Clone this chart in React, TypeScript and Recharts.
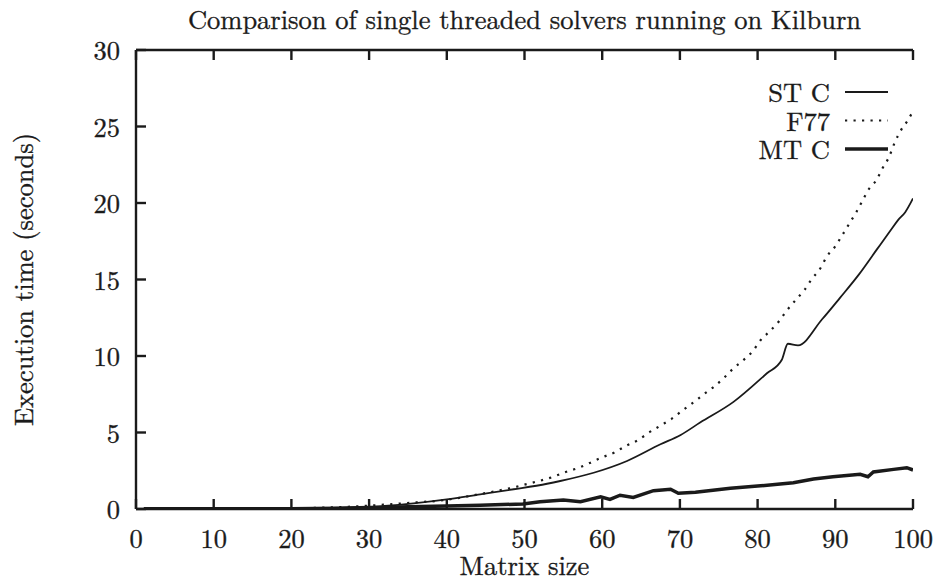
import React from 'react';
import { LineChart, Line, XAxis, YAxis, Legend } from 'recharts';

// ---- data ----
const stcX = [1, 5, 10, 15, 20, 25, 28, 30, 32, 35.7, 40, 44.3, 48.6, 52.9, 54.6, 58.9, 63.2, 67.5, 70.1, 72.6, 76.9, 81.2, 83.1, 83.9, 85.2, 88.3, 90.6, 93, 95.4, 97.1, 98.1, 99, 100];
const stcY = [0.0, 0.0, 0.01, 0.02, 0.04, 0.07, 0.1, 0.13, 0.2, 0.37, 0.63, 0.96, 1.29, 1.65, 1.83, 2.37, 3.14, 4.23, 4.84, 5.65, 7.0, 8.87, 9.74, 10.8, 10.7, 12.4, 13.8, 15.3, 17.0, 18.2, 18.9, 19.4, 20.3];

const f77X = [1, 10, 20, 25, 30, 33, 36.8, 38.6, 40.3, 42, 43.7, 45.3, 47, 48.7, 50.3, 52, 53.6, 55.3, 56.9, 58.5, 60, 61.6, 63.1, 64.6, 66, 67.5, 68.9, 70.3, 71.7, 73, 74.4, 75.7, 76.8, 78.1, 79.4, 80.4, 81.6, 82.8, 83.8, 84.9, 86, 87, 88.1, 88.9, 89.9, 90.9, 91.8, 92.7, 93.5, 94.3, 95.3, 96, 97, 97.6, 98.5, 99.2, 100];
const f77Y = [0.0, 0.01, 0.05, 0.1, 0.22, 0.32, 0.46, 0.52, 0.63, 0.76, 0.92, 1.07, 1.24, 1.42, 1.63, 1.85, 2.09, 2.42, 2.68, 3.03, 3.38, 3.7, 4.14, 4.5, 4.99, 5.45, 5.88, 6.43, 6.95, 7.47, 8.0, 8.58, 9.15, 9.7, 10.33, 11.05, 11.63, 12.3, 13.0, 13.66, 14.3, 15.05, 15.75, 16.5, 17.1, 17.9, 18.65, 19.4, 20.15, 20.9, 21.5, 22.2, 23.1, 23.9, 24.8, 25.3, 26.0];

const mtcX = [1, 10, 20, 26, 30, 31.4, 35, 40, 44.3, 49.8, 52, 55, 57.2, 59.8, 61, 62.3, 64, 66.6, 68.8, 69.8, 72, 76.5, 80, 82.9, 84.6, 87.2, 89.7, 93.2, 94.2, 94.9, 97.5, 99.2, 100];
const mtcY = [0.02, 0.02, 0.02, 0.05, 0.1, 0.1, 0.15, 0.2, 0.24, 0.33, 0.48, 0.59, 0.48, 0.8, 0.63, 0.9, 0.76, 1.2, 1.29, 1.03, 1.1, 1.35, 1.5, 1.63, 1.72, 1.96, 2.11, 2.27, 2.11, 2.42, 2.59, 2.7, 2.55];

const seriesNames = ['ST C', 'F77', 'MT C'];
const xTicks = [0, 10, 20, 30, 40, 50, 60, 70, 80, 90, 100];
const yTicks = [0, 5, 10, 15, 20, 25, 30];
const title = 'Comparison of single threaded solvers running on Kilburn';
const xLabel = 'Matrix size';
const yLabel = 'Execution time (seconds)';

// ---- styles ----
const FONT = '"Latin Modern Roman", "Liberation Serif", serif';
const FS = 26.5;
const INK = '#1a1a1a';
const txt: React.CSSProperties = { fontFamily: FONT, fontSize: FS, fill: INK, stroke: INK, strokeWidth: 0.35 };
const styles: Record<string, { w: number; dash?: string }> = {
  'ST C': { w: 1.8 },
  'F77': { w: 2.2, dash: '2.2 6.3' },
  'MT C': { w: 3.5 },
};

const toPoints = (xs: number[], ys: number[]) => xs.map((x, i) => ({ x, y: ys[i] }));
const stcData = toPoints(stcX, stcY);
const f77Data = toPoints(f77X, f77Y);
const mtcData = toPoints(mtcX, mtcY);

const TL = 10;
const FW = 2.4;

const BottomTick = (p: any) => (
  <g>
    <line x1={p.x} y1={p.y} x2={p.x} y2={p.y - TL} stroke={INK} strokeWidth={FW} />
    <text x={p.x} y={p.y + 39} textAnchor="middle" style={txt}>
      {p.payload.value}
    </text>
  </g>
);
const TopTick = (p: any) => (
  <line x1={p.x} y1={p.y} x2={p.x} y2={p.y + TL} stroke={INK} strokeWidth={FW} />
);
const LeftTick = (p: any) => (
  <g>
    <line x1={p.x} y1={p.y} x2={p.x + TL} y2={p.y} stroke={INK} strokeWidth={FW} />
    <text x={p.x - 16} y={p.y + 10} textAnchor="end" style={txt}>
      {p.payload.value}
    </text>
  </g>
);
const RightTick = (p: any) => (
  <line x1={p.x} y1={p.y} x2={p.x - TL} y2={p.y} stroke={INK} strokeWidth={FW} />
);

const LegendContent = (props: any) => {
  const items = (props.payload || [])
    .filter((e: any) => seriesNames.includes(e.value))
    .sort((a: any, b: any) => seriesNames.indexOf(a.value) - seriesNames.indexOf(b.value));
  return (
    <svg width={200} height={90} style={{ overflow: 'visible', display: 'block' }}>
      {items.map((e: any, i: number) => {
        const s = styles[e.value];
        const cy = 12 + i * 28.5;
        return (
          <g key={e.value}>
            <text x={115} y={cy + 10} textAnchor="end" style={txt}>
              {e.value}
            </text>
            <line x1={130} y1={cy} x2={173} y2={cy} stroke={INK} strokeWidth={s.w} strokeDasharray={s.dash} />
          </g>
        );
      })}
    </svg>
  );
};

const common = { dot: false, activeDot: false, isAnimationActive: false, stroke: INK };

export default function App() {
  return (
    <div style={{ position: 'absolute', left: 0, top: 0, width: 935, height: 581, background: '#fff' }}>
      <LineChart width={935} height={581} margin={{ top: 0, right: 22, bottom: 0, left: 0 }}>
        <XAxis
          xAxisId="b"
          type="number"
          dataKey="x"
          domain={[0, 100]}
          ticks={xTicks}
          orientation="bottom"
          height={72}
          tickSize={0}
          tickMargin={0}
          tickLine={false}
          axisLine={{ stroke: INK, strokeWidth: FW }}
          tick={<BottomTick />}
          interval={0}
          allowDataOverflow
          label={{
            value: xLabel,
            content: (p: any) => (
              <text x={p.viewBox.x + p.viewBox.width / 2} y={p.viewBox.y + 66} textAnchor="middle" style={txt}>
                {xLabel}
              </text>
            ),
          }}
        />
        <XAxis
          xAxisId="t"
          type="number"
          dataKey="x"
          domain={[0, 100]}
          ticks={xTicks}
          orientation="top"
          height={50}
          tickSize={0}
          tickMargin={0}
          tickLine={false}
          axisLine={{ stroke: INK, strokeWidth: FW }}
          tick={<TopTick />}
          interval={0}
          allowDataOverflow
          label={{
            value: title,
            content: (p: any) => (
              <text x={p.viewBox.x + p.viewBox.width / 2} y={29} textAnchor="middle" style={txt}>
                {title}
              </text>
            ),
          }}
        />
        <YAxis
          yAxisId="l"
          type="number"
          domain={[0, 30]}
          ticks={yTicks}
          orientation="left"
          width={136}
          tickSize={0}
          tickMargin={0}
          tickLine={false}
          axisLine={{ stroke: INK, strokeWidth: FW }}
          tick={<LeftTick />}
          interval={0}
          allowDataOverflow
          label={{
            value: yLabel,
            content: (p: any) => {
              const cx = 33;
              const cy = p.viewBox.y + p.viewBox.height / 2;
              return (
                <text x={cx} y={cy} transform={`rotate(-90, ${cx}, ${cy})`} textAnchor="middle" style={txt}>
                  {yLabel}
                </text>
              );
            },
          }}
        />
        <YAxis
          yAxisId="r"
          type="number"
          domain={[0, 30]}
          ticks={yTicks}
          orientation="right"
          width={0}
          tickSize={0}
          tickMargin={0}
          tickLine={false}
          axisLine={{ stroke: INK, strokeWidth: FW }}
          tick={<RightTick />}
          interval={0}
          allowDataOverflow
        />
        <Legend
          layout="vertical"
          align="center"
          verticalAlign="middle"
          wrapperStyle={{ position: 'absolute', left: 715, top: 80, width: 200, height: 90 }}
          content={<LegendContent />}
        />
        <Line {...common} type="linear" xAxisId="t" yAxisId="r" data={stcData} dataKey="y" name="mirror" stroke="none" legendType="none" />
        <Line {...common} type="monotone" xAxisId="b" yAxisId="l" data={stcData} dataKey="y" name={seriesNames[0]} strokeWidth={styles['ST C'].w} />
        <Line {...common} type="monotone" xAxisId="b" yAxisId="l" data={f77Data} dataKey="y" name={seriesNames[1]} strokeWidth={styles['F77'].w} strokeDasharray={styles['F77'].dash} />
        <Line {...common} type="linear" xAxisId="b" yAxisId="l" data={mtcData} dataKey="y" name={seriesNames[2]} strokeWidth={styles['MT C'].w} />
      </LineChart>
    </div>
  );
}
